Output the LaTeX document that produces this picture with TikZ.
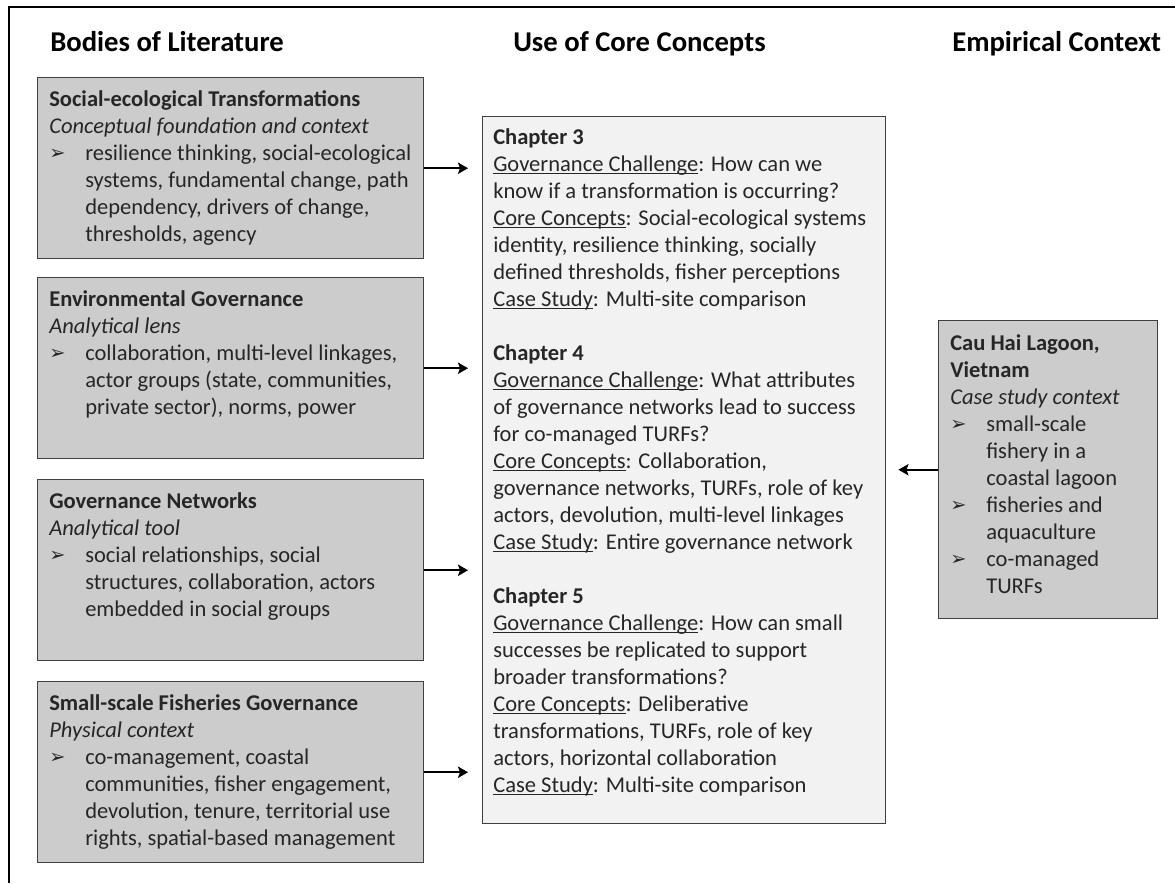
\documentclass[tikz,border=0pt]{standalone}
\usepackage{fontspec}
\setmainfont{Carlito}
\newfontfamily\symfont{DejaVu Sans}
\usetikzlibrary{arrows.meta}
\definecolor{boxgray}{HTML}{CCCCCC}
\definecolor{boxlight}{HTML}{F2F2F2}
\definecolor{edgegray}{HTML}{404040}
\definecolor{bodytext}{HTML}{262626}
\newcommand\bodysize{\fontsize{16.9}{20.25}\selectfont}
\newcommand\bul{\makebox[27pt][l]{\raisebox{0.3pt}{\symfont\fontsize{14.5}{14.5}\selectfont ➢}}}
\newcommand\ind{\hspace*{27pt}}
\newcommand\myul[1]{\setbox0\hbox{#1}\rlap{\rule[-1.9pt]{\wd0}{0.75pt}}\box0}
\newcommand\txtlines[1]{\begin{tabular}[t]{@{}l@{}}#1\end{tabular}}
\begin{document}
\begin{tikzpicture}[x=0.75pt,y=-0.75pt,
  lbox/.style={draw=edgegray, line width=1.1pt, fill=boxgray, anchor=north west, inner sep=0pt,
    minimum width=289.5pt, minimum height=135.75pt},
  cbox/.style={draw=edgegray, line width=1.1pt, fill=boxlight, anchor=north west, inner sep=0pt,
    minimum width=302.25pt, minimum height=530.25pt},
  rbox/.style={draw=edgegray, line width=1.1pt, fill=boxgray, anchor=north west, inner sep=0pt,
    minimum width=164.25pt, minimum height=223.5pt},
  txtn/.style={anchor=base west, inner sep=0pt, font=\bodysize, text=bodytext},
  head/.style={anchor=base west, inner sep=0pt, font=\fontsize{21.5}{26}\selectfont\bfseries, text=black},
  arr/.style={line width=1.5pt, -{Stealth[length=7.5pt,width=8.5pt,inset=1.5pt]}}]
\useasboundingbox (0,0) rectangle (1175,883);
\fill[white] (0,0) rectangle (1175,883);
% frame
\draw[line width=1.9pt] (9,883) -- (9,7) -- (1175,7);
% headings
\node[head] (h1) at (50,51) {Bodies of Literature};
\node[head] (h2) at (513,51) {Use of Core Concepts};
\node[head] (h3) at (952,51) {Empirical Context};
% left boxes
\node[lbox] (b1) at (37,77) {};
\node[lbox] (b2) at (37,277) {};
\node[lbox] (b3) at (37,479) {};
\node[lbox] (b4) at (37,681) {};
\node[txtn] (b1t) at (49,106) {\txtlines{\textbf{Social-ecological Transformations}\\
\textit{Conceptual foundation and context}\\
\bul resilience thinking, social-ecological\\
\ind systems, fundamental change, path\\
\ind dependency, drivers of change,\\
\ind thresholds, agency}};
\node[txtn] (b2t) at (49,306) {\txtlines{\textbf{Environmental Governance}\\
\textit{Analytical lens}\\
\bul collaboration, multi-level linkages,\\
\ind actor groups (state, communities,\\
\ind private sector), norms, power}};
\node[txtn] (b3t) at (49,508) {\txtlines{\textbf{Governance Networks}\\
\textit{Analytical tool}\\
\bul social relationships, social\\
\ind structures, collaboration, actors\\
\ind embedded in social groups}};
\node[txtn] (b4t) at (49,710) {\txtlines{\textbf{Small-scale Fisheries Governance}\\
\textit{Physical context}\\
\bul co-management, coastal\\
\ind communities, fisher engagement,\\
\ind devolution, tenure, territorial use\\
\ind rights, spatial-based management}};
% center box
\node[cbox] (cb) at (482,116) {};
\node[txtn] (cbt) at (493,144) {\txtlines{\textbf{Chapter 3}\\
\myul{Governance Challenge}: How can we\\
know if a transformation is occurring?\\
\myul{Core Concepts}: Social-ecological systems\\
identity, resilience thinking, socially\\
defined thresholds, fisher perceptions\\
\myul{Case Study}: Multi-site comparison\\[20.25pt]
\textbf{Chapter 4}\\
\myul{Governance Challenge}: What attributes\\
of governance networks lead to success\\
for co-managed TURFs?\\
\myul{Core Concepts}: Collaboration,\\
governance networks, TURFs, role of key\\
actors, devolution, multi-level linkages\\
\myul{Case Study}: Entire governance network\\[20.25pt]
\textbf{Chapter 5}\\
\myul{Governance Challenge}: How can small\\
successes be replicated to support\\
broader transformations?\\
\myul{Core Concepts}: Deliberative\\
transformations, TURFs, role of key\\
actors, horizontal collaboration\\
\myul{Case Study}: Multi-site comparison}};
% right box
\node[rbox] (rb) at (938,320) {};
\node[txtn] (rbt) at (950,350) {\txtlines{\textbf{Cau Hai Lagoon,}\\
\textbf{Vietnam}\\
\textit{Case study context}\\
\bul small-scale\\
\ind fishery in a\\
\ind coastal lagoon\\
\bul fisheries and\\
\ind aquaculture\\
\bul co-managed\\
\ind TURFs}};
% arrows
\draw[arr, shorten >=10.5pt] (b1.east) -- (b1.east -| cb.west);
\draw[arr, shorten >=10.5pt] (b2.east) -- (b2.east -| cb.west);
\draw[arr, shorten >=10.5pt] (b3.east) -- (b3.east -| cb.west);
\draw[arr, shorten >=10.5pt] (b4.east) -- (b4.east -| cb.west);
\draw[arr, shorten >=9pt] (rb.west) -- (rb.west -| cb.east);
\end{tikzpicture}
\end{document}
